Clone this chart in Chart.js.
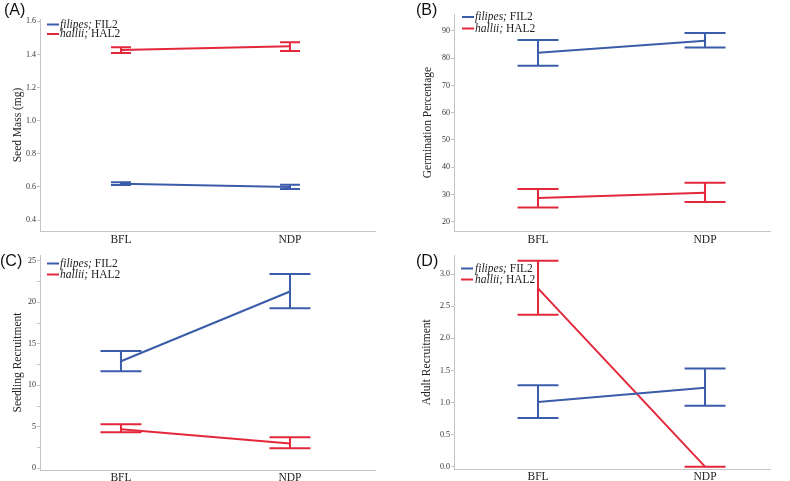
<!DOCTYPE html>
<html>
<head>
<meta charset="utf-8">
<script src="https://cdn.jsdelivr.net/npm/chart.js@4.4.1/dist/chart.umd.min.js"></script>
<style>
body { margin: 0; background: #fff; width: 790px; height: 481px; overflow: hidden; position: relative; }
.panel { position: absolute; width: 395px; }
.panel canvas { display: block; }
.tag { position: absolute; font-family: "Liberation Sans", Arial, sans-serif; font-size: 16px; line-height: 1; color: #111; }
</style>
</head>
<body>
<div class="panel" style="left:0;top:0"><canvas id="chartA" width="395" height="252"></canvas></div>
<div class="panel" style="left:395px;top:0"><canvas id="chartB" width="395" height="252"></canvas></div>
<div class="panel" style="left:0;top:240px"><canvas id="chartC" width="395" height="241"></canvas></div>
<div class="panel" style="left:395px;top:240px"><canvas id="chartD" width="395" height="241"></canvas></div>
<div class="tag" style="left:4px;top:2px">(A)</div>
<div class="tag" style="left:416px;top:2px">(B)</div>
<div class="tag" style="left:0px;top:253px">(C)</div>
<div class="tag" style="left:416px;top:253px">(D)</div>
<script>
const categories = ["BFL", "NDP"];
const seriesNames = [["filipes;", " FIL2"], ["hallii;", " HAL2"]];

// (A) seed mass
const seedFil = [0.62, 0.60];
const seedFilLo = [0.611, 0.588];
const seedFilHi = [0.629, 0.614];
const seedHal = [1.427, 1.449];
const seedHalLo = [1.409, 1.421];
const seedHalHi = [1.443, 1.474];
const seedTicks = [0.4, 0.6, 0.8, 1.0, 1.2, 1.4, 1.6];

// (B) germination
const germFil = [82.0, 86.4];
const germFilLo = [77.2, 83.9];
const germFilHi = [86.7, 89.2];
const germHal = [28.7, 30.6];
const germHalLo = [25.2, 27.2];
const germHalHi = [32.0, 34.3];
const germTicks = [20, 30, 40, 50, 60, 70, 80, 90];

// (C) seedling recruitment
const seedlFil = [12.9, 21.3];
const seedlFilLo = [11.7, 19.3];
const seedlFilHi = [14.15, 23.4];
const seedlHal = [4.7, 3.0];
const seedlHalLo = [4.34, 2.41];
const seedlHalHi = [5.31, 3.74];
const seedlTicks = [0, 5, 10, 15, 20, 25];
const seedlMinor = [2.5, 7.5, 12.5, 17.5, 22.5];

// (D) adult recruitment
const adultFil = [1.01, 1.23];
const adultFilLo = [0.76, 0.95];
const adultFilHi = [1.27, 1.53];
const adultHal = [2.78, 0.0];
const adultHalLo = [2.37, 0.0];
const adultHalHi = [3.21, 0.0];
const adultTicks = [0.0, 0.5, 1.0, 1.5, 2.0, 2.5, 3.0];

const BLUE = "rgb(59,92,170)";
const RED = "rgb(228,40,60)";
const GREY = "#c4c4c4";
const SERIF = "'Liberation Serif', 'Times New Roman', serif";

const errorBars = {
    id: "errorBars",
    afterDatasetsDraw(chart, args, opts) {
        const ctx = chart.ctx;
        const xs = chart.scales.x;
        const ys = chart.scales.y;
        chart.data.datasets.forEach(function (ds) {
            ctx.save();
            ctx.strokeStyle = ds.borderColor;
            ctx.lineWidth = 2;
            ds.data.forEach(function (p, i) {
                const px = xs.getPixelForValue(p.x);
                const lo = ys.getPixelForValue(ds.low[i]);
                const hi = ys.getPixelForValue(ds.high[i]);
                const w = opts.cap;
                ctx.beginPath();
                ctx.moveTo(px, lo);
                ctx.lineTo(px, hi);
                ctx.moveTo(px - w, lo);
                ctx.lineTo(px + w, lo);
                ctx.moveTo(px - w, hi);
                ctx.lineTo(px + w, hi);
                ctx.stroke();
            });
            ctx.restore();
        });
    },
};

const sideLegend = {
    id: "sideLegend",
    afterDraw(chart, args, opts) {
        const ctx = chart.ctx;
        ctx.save();
        ctx.textBaseline = "middle";
        chart.data.datasets.forEach(function (ds, i) {
            const y = opts.rows[i];
            ctx.strokeStyle = ds.borderColor;
            ctx.lineWidth = 2;
            ctx.beginPath();
            ctx.moveTo(opts.lineX, y);
            ctx.lineTo(opts.lineX + 12, y);
            ctx.stroke();
            ctx.fillStyle = "#222";
            ctx.font = "italic 11.5px " + SERIF;
            ctx.fillText(seriesNames[i][0], opts.textX, y);
            const w = ctx.measureText(seriesNames[i][0]).width;
            ctx.font = "11.5px " + SERIF;
            ctx.fillText(seriesNames[i][1], opts.textX + w, y);
        });
        ctx.restore();
    },
};

function pts(arr) {
    return arr.map(function (v, i) {
        return { x: i, y: v };
    });
}

function makeChart(id, cfg) {
    const labelSet = cfg.ticks;
    const allTicks = cfg.ticks.concat(cfg.minor || []);
    return new Chart(document.getElementById(id), {
        type: "scatter",
        data: {
            datasets: [
                { data: pts(cfg.fil), low: cfg.filLo, high: cfg.filHi, borderColor: BLUE, backgroundColor: BLUE },
                { data: pts(cfg.hal), low: cfg.halLo, high: cfg.halHi, borderColor: RED, backgroundColor: RED },
            ].map(function (d) {
                d.showLine = true;
                d.borderWidth = 2;
                d.pointRadius = 0;
                return d;
            }),
        },
        plugins: [errorBars, sideLegend],
        options: {
            responsive: false,
            animation: false,
            layout: { padding: { top: cfg.top, right: 20, left: 0, bottom: 0 } },
            plugins: {
                legend: { display: false },
                tooltip: { enabled: false },
                errorBars: { cap: cfg.cap },
                sideLegend: cfg.legend,
            },
            scales: {
                x: {
                    type: "linear",
                    min: cfg.xMin,
                    max: cfg.xMax,
                    afterBuildTicks: function (s) {
                        s.ticks = categories.map(function (c, i) {
                            return { value: i };
                        });
                    },
                    afterFit: function (s) {
                        s.height = cfg.xHeight;
                    },
                    grid: { display: false, drawTicks: false, tickLength: 0 },
                    border: { display: true, color: GREY, width: 1 },
                    ticks: {
                        padding: cfg.xPad,
                        color: "#222",
                        font: { family: SERIF, size: 11.5 },
                        callback: function (v) {
                            return categories[v];
                        },
                    },
                },
                y: {
                    min: cfg.yMin,
                    max: cfg.yMax,
                    afterBuildTicks: function (s) {
                        s.ticks = allTicks.map(function (v) {
                            return { value: v };
                        });
                    },
                    afterFit: function (s) {
                        s.width = cfg.yWidth;
                    },
                    grid: {
                        display: true,
                        drawOnChartArea: false,
                        tickLength: 3,
                        color: GREY,
                    },
                    border: { display: true, color: GREY, width: 1 },
                    ticks: {
                        padding: 1,
                        color: "#333",
                        font: { family: SERIF, size: 8 },
                        callback: function (v) {
                            if (labelSet.indexOf(v) < 0) return "";
                            return cfg.fmt(v);
                        },
                    },
                    title: {
                        display: true,
                        text: cfg.title,
                        color: "#222",
                        font: { family: SERIF, size: 11.5 },
                        padding: { top: cfg.titlePad, bottom: 0 },
                    },
                },
            },
        },
    });
}

makeChart("chartA", {
    fil: seedFil, filLo: seedFilLo, filHi: seedFilHi,
    hal: seedHal, halLo: seedHalLo, halHi: seedHalHi,
    ticks: seedTicks, fmt: function (v) { return v.toFixed(1); },
    yMin: 0.334, yMax: 1.614, xMin: -0.479, xMax: 1.503,
    title: "Seed Mass (mg)", titlePad: 11,
    top: 19, yWidth: 40, xHeight: 21, xPad: 2, cap: 10,
    legend: { lineX: 47, textX: 60, rows: [24.5, 34] },
});

makeChart("chartB", {
    fil: germFil, filLo: germFilLo, filHi: germFilHi,
    hal: germHal, halLo: germHalLo, halHi: germHalHi,
    ticks: germTicks, fmt: function (v) { return String(v); },
    yMin: 16.6, yMax: 96.2, xMin: -0.503, xMax: 1.389,
    title: "Germination Percentage", titlePad: 26,
    top: 14, yWidth: 59, xHeight: 21, xPad: 2, cap: 20.5,
    legend: { lineX: 67, textX: 80, rows: [17, 28.5] },
});

makeChart("chartC", {
    fil: seedlFil, filLo: seedlFilLo, filHi: seedlFilHi,
    hal: seedlHal, halLo: seedlHalLo, halHi: seedlHalHi,
    ticks: seedlTicks, minor: seedlMinor, fmt: function (v) { return String(v); },
    yMin: -0.2, yMax: 25.7, xMin: -0.479, xMax: 1.503,
    title: "Seedling Recruitment", titlePad: 11,
    top: 15, yWidth: 40, xHeight: 11, xPad: 1, cap: 20.5,
    legend: { lineX: 47, textX: 60, rows: [23.5, 34.5] },
});

makeChart("chartD", {
    fil: adultFil, filLo: adultFilLo, filHi: adultFilHi,
    hal: adultHal, halLo: adultHalLo, halHi: adultHalHi,
    ticks: adultTicks, fmt: function (v) { return v.toFixed(1); },
    yMin: -0.044, yMax: 3.3, xMin: -0.503, xMax: 1.389,
    title: "Adult Recruitment", titlePad: 25,
    top: 15, yWidth: 59, xHeight: 11.5, xPad: 1, cap: 20.5,
    legend: { lineX: 66, textX: 80, rows: [28.5, 39.5] },
});
</script>
</body>
</html>
